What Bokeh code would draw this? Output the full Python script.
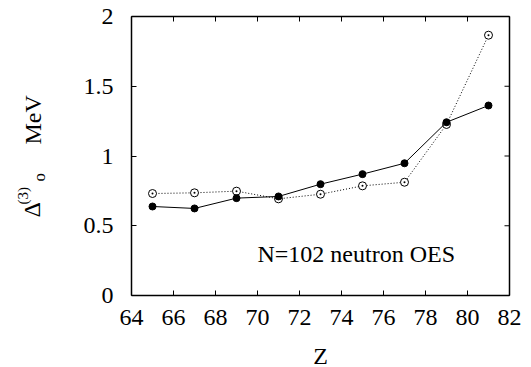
import math
from bokeh.plotting import figure
from bokeh.models import Range1d, FixedTicker, NumeralTickFormatter, Label, ColumnDataSource
from bokeh.embed import file_html
from bokeh.resources import INLINE

# Proton number Z and three-point odd-even staggering (MeV) for N=102
z_values = [65, 67, 69, 71, 73, 75, 77, 79, 81]
oes_filled = [0.638, 0.624, 0.698, 0.71, 0.798, 0.87, 0.948, 1.242, 1.362]
oes_open = [0.731, 0.736, 0.748, 0.693, 0.726, 0.786, 0.812, 1.226, 1.866]

x_ticks = [64, 66, 68, 70, 72, 74, 76, 78, 80, 82]
y_ticks = [0, 0.5, 1, 1.5, 2]

FONT = "Liberation Serif"
FS = "24px"
X0, X1, Y0, Y1 = 64, 82, 0, 2
W, H = 531, 367
FRAME_L, FRAME_R, FRAME_T, FRAME_B = 131, 509, 16, 295
TICK = 5        # inward tick length, px
TEXT_DROP = 9   # glyphs of a Label land this many px past its anchor

# The plotting frame fills the whole page; the box of the graph sits inside it
# and the axes are pinned to its edges, so titles can sit anywhere on the page.
sx = (X1 - X0) / (FRAME_R - FRAME_L)   # data units per pixel, x
sy = (Y1 - Y0) / (FRAME_B - FRAME_T)   # data units per pixel, y
x_range = Range1d(X0 - FRAME_L * sx, X1 + (W - FRAME_R) * sx)
y_range = Range1d(Y0 - (H - FRAME_B) * sy, Y1 + FRAME_T * sy)

p = figure(width=W, height=H, output_backend="svg", toolbar_location=None,
           x_range=x_range, y_range=y_range,
           min_border=0, min_border_left=0, min_border_right=0,
           min_border_top=0, min_border_bottom=0)
p.grid.visible = False
p.outline_line_color = None
p.background_fill_color = "white"
p.border_fill_color = "white"

for ax in (p.xaxis[0], p.yaxis[0]):
    ax.major_tick_in = TICK
    ax.major_tick_out = 0
    ax.minor_tick_line_color = None
    ax.axis_line_color = "black"
    ax.axis_line_width = 1.5
    ax.major_tick_line_width = 1
    ax.major_label_text_font = FONT
    ax.major_label_text_font_size = FS
    ax.major_label_text_color = "black"

p.xaxis[0].ticker = FixedTicker(ticks=x_ticks)
p.xaxis[0].bounds = (X0, X1)
p.xaxis[0].fixed_location = Y0
p.xaxis[0].major_label_standoff = 14
p.yaxis[0].ticker = FixedTicker(ticks=y_ticks)
p.yaxis[0].bounds = (Y0, Y1)
p.yaxis[0].fixed_location = X0
p.yaxis[0].formatter = NumeralTickFormatter(format="0.[0]")
p.yaxis[0].major_label_standoff = 18

# top and right sides of the box, with mirrored inward ticks
p.segment(x0=[X0, X1], y0=[Y1, Y0], x1=[X1, X1], y1=[Y1, Y1],
          line_color="black", line_width=1.5)
p.segment(x0=x_ticks, y0=[Y1] * len(x_ticks), x1=x_ticks,
          y1=[Y1 - TICK * sy] * len(x_ticks), line_color="black", line_width=1)
p.segment(x0=[X1] * len(y_ticks), y0=y_ticks, x1=[X1 - TICK * sx] * len(y_ticks),
          y1=y_ticks, line_color="black", line_width=1)

src = ColumnDataSource(dict(z=z_values, filled=oes_filled, open=oes_open))

p.line("z", "open", source=src, line_color="black", line_width=1, line_dash="1 2")
p.scatter("z", "open", source=src, marker="circle_dot", size=8, line_color="black",
          fill_color="white", line_width=1)
p.line("z", "filled", source=src, line_color="black", line_width=1)
p.scatter("z", "filled", source=src, marker="circle", size=7, line_color="black",
          fill_color="black")

p.add_layout(Label(x=70.0, y=0.30, text="N=102 neutron OES", text_font=FONT,
                   text_font_size=FS, text_color="black", text_baseline="alphabetic"))


def page_label(text, px, py, size, angle=0.0, align="left"):
    # px, py: where the glyphs' baseline should fall, from the page's top-left
    if angle:
        px -= TEXT_DROP
    else:
        py -= TEXT_DROP
    p.add_layout(Label(x=px, y=H - py, x_units="screen", y_units="screen", text=text,
                       angle=angle, text_font=FONT, text_font_size=size,
                       text_color="black", text_align=align,
                       text_baseline="alphabetic"))


# x-axis title
page_label("Z", (FRAME_L + FRAME_R) / 2, 364, FS, align="center")

# y-axis title, read bottom to top: Delta, superscript (3), subscript o, the unit
up = math.pi / 2
page_label("Δ", 40, 217, FS, up)
page_label("(3)", 31, 204, "15px", up)
page_label("o", 48, 181, "17px", up)
page_label("MeV", 41, 144, FS, up)

open("out.html", "w").write(file_html(p, INLINE))
